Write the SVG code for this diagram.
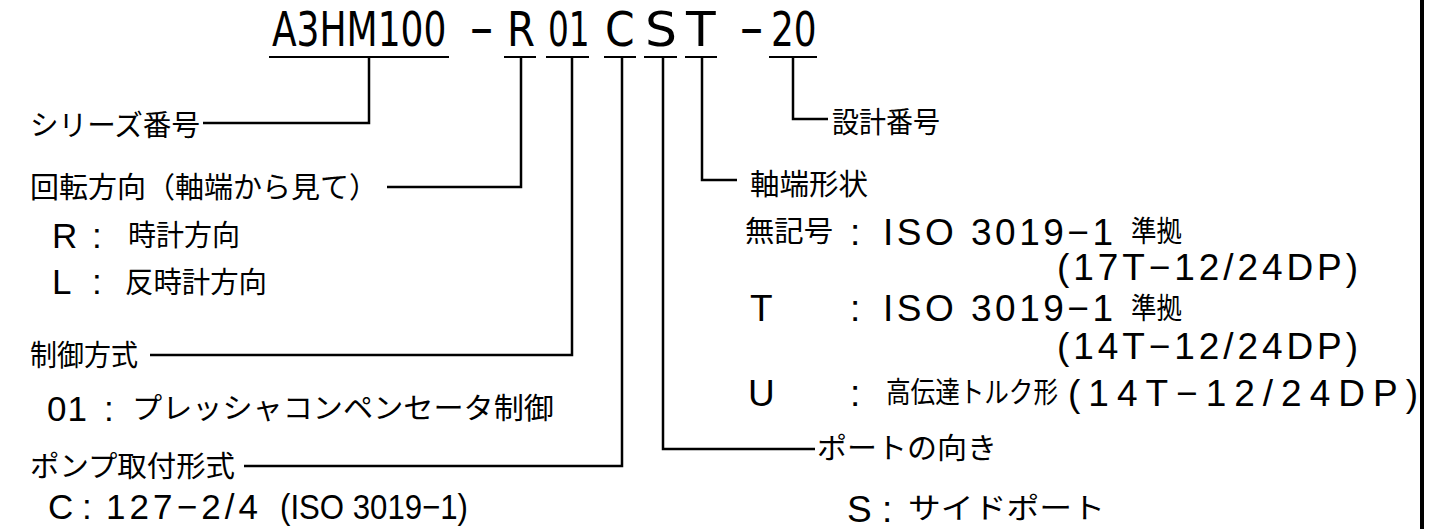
<svg xmlns="http://www.w3.org/2000/svg" width="1452" height="529" viewBox="0 0 1452 529">
<style>
.bg{fill:#fff}
.t{font-family:"Liberation Sans Narrow","DejaVu Sans Condensed","Liberation Sans",sans-serif;font-size:48px;fill:#000}
.l{font-family:"Liberation Sans","DejaVu Sans",sans-serif;font-size:35px;fill:#000}
.r{font-family:"Liberation Sans","DejaVu Sans",sans-serif;font-size:37px;fill:#000}
.j{font-family:"Noto Sans CJK JP","Liberation Sans",sans-serif;font-size:29px;fill:#000}
.ln{fill:none;stroke:#000;stroke-width:2.5}
.ul{fill:none;stroke:#000;stroke-width:2.2}
</style>
<rect class="bg" x="0" y="0" width="1452" height="529"/>
<g id="model">
<text class="t" transform="translate(272,46) scale(0.8,1)" x="0" y="0" textLength="218" lengthAdjust="spacingAndGlyphs">A3HM100</text>
<text class="t" transform="translate(469,46) scale(0.8,1)" x="0" y="0" textLength="31" lengthAdjust="spacingAndGlyphs">−</text>
<text class="t" transform="translate(507,46) scale(0.8,1)" x="0" y="0" textLength="35" lengthAdjust="spacingAndGlyphs">R</text>
<text class="t" transform="translate(548,46) scale(0.8,1)" x="0" y="0" textLength="52" lengthAdjust="spacingAndGlyphs">01</text>
<text class="t" transform="translate(605,46) scale(0.8,1)" x="0" y="0" textLength="37" lengthAdjust="spacingAndGlyphs">C</text>
<text class="t" transform="translate(645,46) scale(0.8,1)" x="0" y="0" textLength="40" lengthAdjust="spacingAndGlyphs">S</text>
<text class="t" transform="translate(686,46) scale(0.8,1)" x="0" y="0" textLength="37" lengthAdjust="spacingAndGlyphs">T</text>
<text class="t" transform="translate(739,46) scale(0.8,1)" x="0" y="0" textLength="31" lengthAdjust="spacingAndGlyphs">−</text>
<text class="t" transform="translate(771,46) scale(0.8,1)" x="0" y="0" textLength="57" lengthAdjust="spacingAndGlyphs">20</text>
<path class="ul" d="M269,57H449M504,57H536M546,57H589M604,57H636M644,57H677M685,57H717M769,57H817"/>
</g>
<g id="connectors">
<path class="ln" d="M369,57V123H203"/>
<path class="ln" d="M521,57V187H387"/>
<path class="ln" d="M572,57V355H150"/>
<path class="ln" d="M622,57V466H244"/>
<path class="ln" d="M663,57V449H815"/>
<path class="ln" d="M702,57V180H737"/>
<path class="ln" d="M793,57V119H828"/>
</g>
<g id="series">
<text class="j" x="30" y="136" textLength="170" lengthAdjust="spacingAndGlyphs">シリーズ番号</text>
</g>
<g id="rotation">
<text class="j" x="30" y="198" textLength="348" lengthAdjust="spacingAndGlyphs">回転方向（軸端から見て）</text>
<text class="l" x="52" y="248">R</text>
<text class="l" x="92" y="248">:</text>
<text class="j" x="128" y="246" textLength="112" lengthAdjust="spacingAndGlyphs">時計方向</text>
<text class="l" x="52" y="294">L</text>
<text class="l" x="92" y="294">:</text>
<text class="j" x="125" y="293" textLength="142" lengthAdjust="spacingAndGlyphs">反時計方向</text>
</g>
<g id="control">
<text class="j" x="30" y="366" textLength="108" lengthAdjust="spacingAndGlyphs">制御方式</text>
<text class="l" x="47" y="421" textLength="40" lengthAdjust="spacing">01</text>
<text class="l" x="104" y="421">:</text>
<text class="j" x="132" y="419" textLength="422" lengthAdjust="spacingAndGlyphs">プレッシャコンペンセータ制御</text>
</g>
<g id="mounting">
<text class="j" x="30" y="477" textLength="205" lengthAdjust="spacingAndGlyphs">ポンプ取付形式</text>
<text class="l" x="48" y="519">C</text>
<text class="l" x="82" y="519">:</text>
<text class="l" x="106" y="519" textLength="152" lengthAdjust="spacing">127−2/4</text>
<text class="l" x="280" y="519" textLength="188" lengthAdjust="spacingAndGlyphs">(ISO 3019−1)</text>
</g>
<g id="shaft">
<text class="j" x="750" y="195" textLength="118" lengthAdjust="spacingAndGlyphs">軸端形状</text>
<text class="j" x="745" y="242" textLength="88" lengthAdjust="spacingAndGlyphs">無記号</text>
<text class="r" x="850" y="245">:</text>
<text class="r" x="883" y="245" textLength="230" lengthAdjust="spacing">ISO 3019−1</text>
<text class="j" x="1131" y="242" textLength="51" lengthAdjust="spacingAndGlyphs">準拠</text>
<text class="r" x="1057" y="280" textLength="301" lengthAdjust="spacing">(17T−12/24DP)</text>
<text class="r" x="750" y="321">T</text>
<text class="r" x="850" y="321">:</text>
<text class="r" x="883" y="321" textLength="230" lengthAdjust="spacing">ISO 3019−1</text>
<text class="j" x="1131" y="319" textLength="51" lengthAdjust="spacingAndGlyphs">準拠</text>
<text class="r" x="1057" y="359" textLength="301" lengthAdjust="spacing">(14T−12/24DP)</text>
<text class="r" x="748" y="406">U</text>
<text class="r" x="850" y="406">:</text>
<text class="j" x="886" y="403" textLength="172" lengthAdjust="spacingAndGlyphs">高伝達トルク形</text>
<text class="r" x="1068" y="406" textLength="350" lengthAdjust="spacing">(14T−12/24DP)</text>
</g>
<g id="port">
<text class="j" x="817" y="459" textLength="180" lengthAdjust="spacingAndGlyphs">ポートの向き</text>
<text class="r" x="847" y="522">S</text>
<text class="r" x="882" y="522">:</text>
<text class="j" x="908" y="519" textLength="197" lengthAdjust="spacingAndGlyphs">サイドポート</text>
</g>
<g id="design">
<text class="j" x="832" y="133" textLength="108" lengthAdjust="spacingAndGlyphs">設計番号</text>
</g>
<path d="M1422,0V529" stroke="#000" stroke-width="4" fill="none"/>
</svg>
